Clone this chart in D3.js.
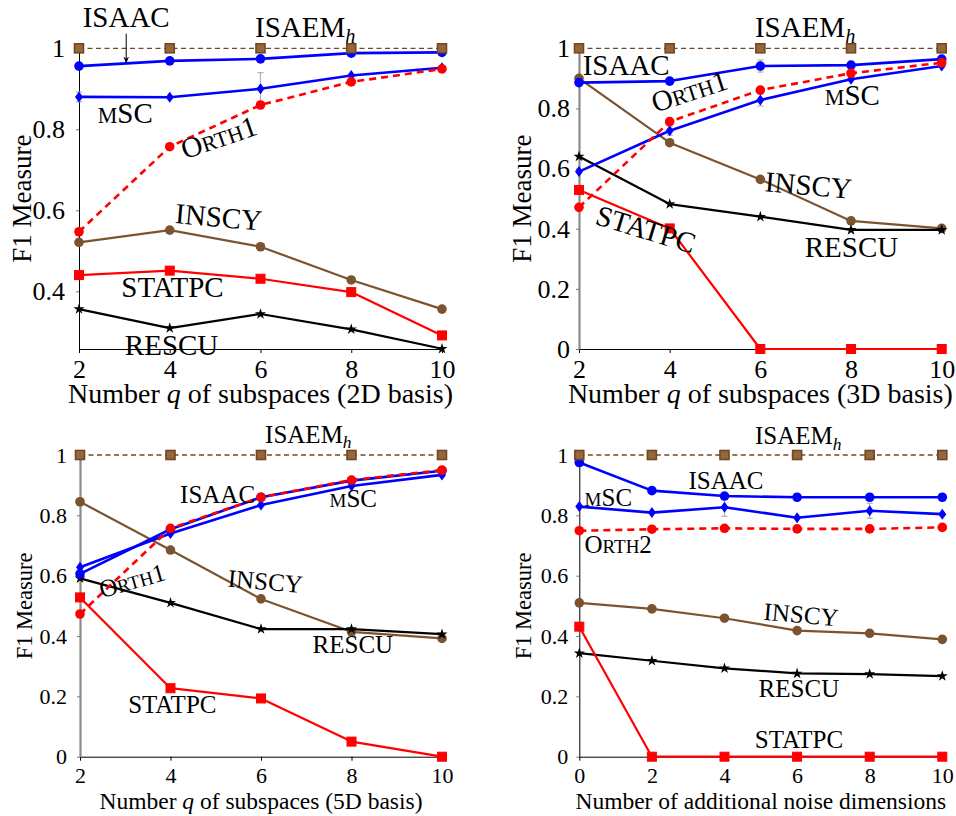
<!DOCTYPE html>
<html>
<head>
<meta charset="utf-8">
<script src="https://cdn.jsdelivr.net/npm/d3@7"></script>
<style>
  body { margin: 0; background: #fff; }
  svg text { font-family: "Liberation Serif", "DejaVu Serif", serif; fill: #000; }
</style>
</head>
<body>
<svg id="chart" width="956" height="816"></svg>
<script>
// x values
var xsQ = [2, 4, 6, 8, 10];
var xsNoise = [0, 2, 4, 6, 8, 10];

// panel 1: 2D basis
var a_isaem  = [1, 1, 1, 1, 1];
var a_isaac  = [0.956, 0.969, 0.974, 0.988, 0.990];
var a_msc    = [0.880, 0.879, 0.900, 0.933, 0.952];
var a_msc_err = [0.012, 0, 0.04, 0, 0];
var a_orth   = [0.547, 0.757, 0.860, 0.917, 0.949];
var a_inscy  = [0.521, 0.551, 0.510, 0.428, 0.356];
var a_statpc = [0.440, 0.451, 0.431, 0.398, 0.291];
var a_rescu  = [0.356, 0.309, 0.344, 0.306, 0.258];

// panel 2: 3D basis
var b_isaem  = [1, 1, 1, 1, 1];
var b_isaac  = [0.886, 0.891, 0.941, 0.944, 0.964];
var b_isaac_err = [0, 0, 0.02, 0, 0];
var b_msc    = [0.590, 0.726, 0.828, 0.897, 0.941];
var b_msc_err = [0, 0.015, 0.02, 0, 0];
var b_orth   = [0.471, 0.756, 0.861, 0.917, 0.952];
var b_inscy  = [0.900, 0.686, 0.564, 0.426, 0.401];
var b_statpc = [0.529, 0.401, 0, 0, 0];
var b_rescu  = [0.640, 0.482, 0.440, 0.396, 0.396];

// panel 3: 5D basis
var c_isaem  = [1, 1, 1, 1, 1];
var c_isaac  = [0.606, 0.754, 0.860, 0.915, 0.948];
var c_msc    = [0.628, 0.740, 0.834, 0.897, 0.934];
var c_orth   = [0.473, 0.757, 0.860, 0.917, 0.950];
var c_inscy  = [0.845, 0.685, 0.523, 0.414, 0.392];
var c_statpc = [0.528, 0.227, 0.193, 0.050, 0];
var c_rescu  = [0.591, 0.510, 0.423, 0.423, 0.406];

// panel 4: additional noise dimensions
var d_isaem  = [1, 1, 1, 1, 1, 1];
var d_isaac  = [0.975, 0.882, 0.864, 0.860, 0.860, 0.860];
var d_msc    = [0.829, 0.809, 0.827, 0.792, 0.815, 0.804];
var d_msc_err = [0, 0, 0.03, 0, 0.025, 0];
var d_orth   = [0.749, 0.754, 0.757, 0.755, 0.755, 0.760];
var d_inscy  = [0.510, 0.490, 0.459, 0.418, 0.409, 0.389];
var d_statpc = [0.431, 0, 0, 0, 0, 0];
var d_rescu  = [0.343, 0.318, 0.293, 0.276, 0.274, 0.267];

var yTicksTop = [0.4, 0.6, 0.8, 1];
var yTicksFull = [0, 0.2, 0.4, 0.6, 0.8, 1];

// series labels: [text, kind] parts
var lblIsaem = [["ISAEM"], ["h", "sub"]];
var lblIsaac = [["ISAAC"]];
var lblMsc = [["M", "sc"], ["SC"]];
var lblOrth1 = [["O"], ["RTH", "sc"], ["1"]];
var lblOrth2 = [["O"], ["RTH", "sc"], ["2"]];
var lblInscy = [["INSCY"]];
var lblStatpc = [["STATPC"]];
var lblRescu = [["RESCU"]];

var FONT = '"Liberation Serif", "DejaVu Serif", serif';

var styles = {
  isaem:  {color: "#6e4827", width: 1.3, dash: "5,3.5", mark: "square", fill: "#97673a"},
  isaac:  {color: "#0000ff", width: 2.6, mark: "circle"},
  msc:    {color: "#0000ff", width: 2.6, mark: "diamond"},
  orth:   {color: "#ff0000", width: 2.6, dash: "7,5", mark: "circle"},
  inscy:  {color: "#7b542f", width: 2.2, mark: "circle"},
  statpc: {color: "#ff0000", width: 2.2, mark: "square"},
  rescu:  {color: "#000000", width: 2.2, mark: "star"}
};

var topFonts = {tick: 26, axis: 28, ylab: 27, label: 29, titleOff: 54};
var botFonts = {tick: 22, axis: 23.5, ylab: 22.5, label: 25, titleOff: 52};

var panels = [
  {xr: [79, 442], yr: [349, 48.3], ydom: [0.2575, 1], xs: xsQ, yticks: yTicksTop, fonts: topFonts,
   tickPad: 11, axisColor: "#000", axisWidth: 1,
   xlabel: [["Number "], ["q", "it"], [" of subspaces (2D basis)"]],
   series: [
     {k: "inscy", v: a_inscy, lbl: lblInscy, lx: 5.06, ly: 0.559, rot: 5},
     {k: "rescu", v: a_rescu, lbl: lblRescu, lx: 4.04, ly: 0.243},
     {k: "statpc", v: a_statpc, lbl: lblStatpc, lx: 4.06, ly: 0.386},
     {k: "msc", v: a_msc, err: a_msc_err, lbl: lblMsc, lx: 3.02, ly: 0.816},
     {k: "isaac", v: a_isaac, lbl: lblIsaac, lx: 3.04, ly: 1.053},
     {k: "orth", v: a_orth, lbl: lblOrth1, lx: 5.15, ly: 0.757, rot: -19},
     {k: "isaem", v: a_isaem, lbl: lblIsaem, lx: 5.88, ly: 1.028, anchor: "start"}
   ],
   arrow: {x: 3.04, y1: 1.036, y2: 0.964}},
  {xr: [579, 941.7], yr: [349, 48.3], ydom: [0, 1], xs: xsQ, yticks: yTicksFull, fonts: topFonts,
   tickPad: 6, axisColor: "#8a8a8a", axisWidth: 2.2,
   xlabel: [["Number "], ["q", "it"], [" of subspaces (3D basis)"]],
   series: [
     {k: "inscy", v: b_inscy, lbl: lblInscy, lx: 7.04, ly: 0.512, rot: 5},
     {k: "rescu", v: b_rescu, lbl: lblRescu, lx: 8.01, ly: 0.306},
     {k: "statpc", v: b_statpc, lbl: lblStatpc, lx: 3.41, ly: 0.367, rot: 17},
     {k: "msc", v: b_msc, err: b_msc_err, lbl: lblMsc, lx: 8.03, ly: 0.811},
     {k: "isaac", v: b_isaac, err: b_isaac_err, lbl: lblIsaac, lx: 3.04, ly: 0.911},
     {k: "orth", v: b_orth, lbl: lblOrth1, lx: 4.5, ly: 0.826, rot: -18},
     {k: "isaem", v: b_isaem, lbl: lblIsaem, lx: 5.88, ly: 1.038, anchor: "start"}
   ]},
  {xr: [80, 442], yr: [756.7, 455], ydom: [0, 1], xs: xsQ, yticks: yTicksFull, fonts: botFonts,
   tickPad: 10, axisColor: "#8a8a8a", axisWidth: 2.2,
   xlabel: [["Number "], ["q", "it"], [" of subspaces (5D basis)"]],
   series: [
     {k: "inscy", v: c_inscy, lbl: lblInscy, lx: 6.08, ly: 0.553, rot: 5},
     {k: "rescu", v: c_rescu, lbl: lblRescu, lx: 8.03, ly: 0.344},
     {k: "statpc", v: c_statpc, lbl: lblStatpc, lx: 4.04, ly: 0.145},
     {k: "msc", v: c_msc, lbl: lblMsc, lx: 8.04, ly: 0.828},
     {k: "isaac", v: c_isaac, lbl: lblIsaac, lx: 5.04, ly: 0.841},
     {k: "orth", v: c_orth, lbl: lblOrth1, lx: 3.2, ly: 0.556, rot: -16},
     {k: "isaem", v: c_isaem, lbl: lblIsaem, lx: 6.09, ly: 1.040, anchor: "start"}
   ]},
  {xr: [579.3, 942.3], yr: [756.7, 455], ydom: [0, 1], xs: xsNoise, yticks: yTicksFull, fonts: botFonts,
   tickPad: 8, axisColor: "#000", axisWidth: 1,
   xlabel: [["Number of additional noise dimensions"]],
   series: [
     {k: "inscy", v: d_inscy, lbl: lblInscy, lx: 6.09, ly: 0.443, rot: 5},
     {k: "rescu", v: d_rescu, lbl: lblRescu, lx: 6.05, ly: 0.198},
     {k: "statpc", v: d_statpc, lbl: lblStatpc, lx: 6.05, ly: 0.029},
     {k: "msc", v: d_msc, err: d_msc_err, lbl: lblMsc, lx: 0.80, ly: 0.831},
     {k: "isaac", v: d_isaac, lbl: lblIsaac, lx: 4.04, ly: 0.887},
     {k: "orth", v: d_orth, lbl: lblOrth2, lx: 1.07, ly: 0.675},
     {k: "isaem", v: d_isaem, lbl: lblIsaem, lx: 4.84, ly: 1.036, anchor: "start"}
   ]}
];

var svg = d3.select("#chart");

svg.append("defs").append("marker")
    .attr("id", "arrowhead")
    .attr("viewBox", "0 0 10 10")
    .attr("refX", 9).attr("refY", 5)
    .attr("markerWidth", 7).attr("markerHeight", 7)
    .attr("orient", "auto")
  .append("path")
    .attr("d", "M0,1 L10,5 L0,9 L3,5 Z")
    .attr("fill", "#000");

// writes rich text parts into a text element
function richText(t, parts, size) {
  parts.forEach(function(p) {
    var ts = t.append("tspan").text(p[0]);
    if (p[1] == "sc") ts.attr("font-size", size * 0.76);
    if (p[1] == "it") ts.attr("font-style", "italic");
    if (p[1] == "sub") ts.attr("font-style", "italic").attr("font-size", size * 0.7).attr("dy", size * 0.22);
  });
}

function drawMark(g, type, st, px, py) {
  if (type == "circle") {
    g.append("circle").attr("cx", px).attr("cy", py).attr("r", 4.8)
      .attr("fill", st.color);
  } else if (type == "square") {
    g.append("rect").attr("x", px - 4.5).attr("y", py - 4.5).attr("width", 9).attr("height", 9)
      .attr("fill", st.fill || st.color)
      .attr("stroke", st.color).attr("stroke-width", st.fill ? 1.6 : 1);
  } else if (type == "diamond") {
    g.append("path")
      .attr("d", "M" + px + "," + (py - 5.5) + "L" + (px + 4) + "," + py + "L" + px + "," + (py + 5.5) + "L" + (px - 4) + "," + py + "Z")
      .attr("fill", st.color);
  } else if (type == "star") {
    g.append("path")
      .attr("transform", "translate(" + px + "," + py + ")")
      .attr("d", d3.symbol().type(d3.symbolStar).size(38)())
      .attr("fill", st.color);
  }
}

panels.forEach(function(p) {
  var x = d3.scaleLinear().domain(d3.extent(p.xs)).range(p.xr);
  var y = d3.scaleLinear().domain(p.ydom).range(p.yr);
  var g = svg.append("g").attr("font-family", FONT);
  var f = p.fonts;

  // axes
  var xAxis = g.append("g")
    .attr("transform", "translate(0," + p.yr[0] + ")")
    .call(d3.axisBottom(x).tickValues(p.xs).tickSize(4).tickSizeOuter(0).tickPadding(7).tickFormat(d3.format("d")));
  xAxis.attr("font-family", FONT);
  xAxis.selectAll("text").attr("font-size", f.tick);
  xAxis.select(".domain").attr("stroke", "#000");

  var yAxis = g.append("g")
    .attr("transform", "translate(" + p.xr[0] + ",0)")
    .call(d3.axisLeft(y).tickValues(p.yticks).tickSize(3).tickSizeOuter(0).tickPadding(p.tickPad)
      .tickFormat(function(d) { return (d == 0 || d == 1) ? String(d) : d.toFixed(1); }));
  yAxis.attr("font-family", FONT);
  yAxis.selectAll("text").attr("font-size", f.tick);
  yAxis.select(".domain").attr("stroke", p.axisColor).attr("stroke-width", p.axisWidth);
  yAxis.selectAll(".tick line").attr("stroke", "#777");

  // axis titles
  var xt = g.append("text")
    .attr("x", (p.xr[0] + p.xr[1]) / 2)
    .attr("y", p.yr[0] + f.titleOff)
    .attr("text-anchor", "middle")
    .attr("font-size", f.axis);
  richText(xt, p.xlabel, f.axis);

  g.append("text")
    .attr("transform", "translate(" + (p.xr[0] - 48) + "," + ((p.yr[0] + p.yr[1]) / 2) + ") rotate(-90)")
    .attr("text-anchor", "middle")
    .attr("font-size", f.ylab)
    .text("F1 Measure");

  // error bars (gray, behind the lines)
  p.series.forEach(function(s) {
    if (!s.err) return;
    var eg = g.append("g").attr("stroke", "#b0b0b0").attr("stroke-width", 1.2);
    s.err.forEach(function(e, i) {
      if (!e) return;
      var cx = x(p.xs[i]), y0 = y(s.v[i] - e), y1 = y(s.v[i] + e);
      eg.append("line").attr("x1", cx).attr("x2", cx).attr("y1", y0).attr("y2", y1);
      eg.append("line").attr("x1", cx - 3).attr("x2", cx + 3).attr("y1", y0).attr("y2", y0);
      eg.append("line").attr("x1", cx - 3).attr("x2", cx + 3).attr("y1", y1).attr("y2", y1);
    });
  });

  // lines and markers
  p.series.forEach(function(s) {
    var st = styles[s.k];
    var pts = s.v.map(function(v, i) { return [p.xs[i], v]; });
    var line = d3.line().x(function(d) { return x(d[0]); }).y(function(d) { return y(d[1]); });
    g.append("path")
      .attr("d", line(pts))
      .attr("fill", "none")
      .attr("stroke", st.color)
      .attr("stroke-width", st.width)
      .attr("stroke-dasharray", st.dash || null)
      .attr("stroke-linejoin", "round");
    var mg = g.append("g");
    pts.forEach(function(d) { drawMark(mg, st.mark, st, x(d[0]), y(d[1])); });
  });

  // series labels
  p.series.forEach(function(s) {
    var lx = x(s.lx), ly = y(s.ly);
    var t = g.append("text")
      .attr("transform", "translate(" + lx + "," + ly + ")" + (s.rot ? " rotate(" + s.rot + ")" : ""))
      .attr("text-anchor", s.anchor || "middle")
      .attr("font-size", f.label);
    richText(t, s.lbl, f.label);
  });

  if (p.arrow) {
    g.append("line")
      .attr("x1", x(p.arrow.x)).attr("x2", x(p.arrow.x))
      .attr("y1", y(p.arrow.y1)).attr("y2", y(p.arrow.y2))
      .attr("stroke", "#000").attr("stroke-width", 1)
      .attr("marker-end", "url(#arrowhead)");
  }
});
</script>
</body>
</html>
